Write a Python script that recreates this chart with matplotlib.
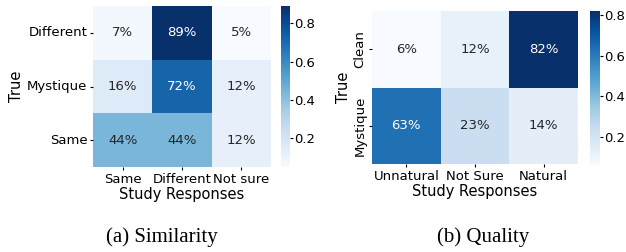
import matplotlib

matplotlib.use("Agg")
import matplotlib.pyplot as plt
import numpy as np
import seaborn as sns

# ---- data ------------------------------------------------------------------
sim_rows = ["Different", "Mystique", "Same"]
sim_cols = ["Same", "Different", "Not sure"]
sim_values = [
    [0.07, 0.89, 0.05],
    [0.16, 0.72, 0.12],
    [0.44, 0.44, 0.12],
]

qual_rows = ["Clean", "Mystique"]
qual_cols = ["Unnatural", "Not Sure", "Natural"]
qual_values = [
    [0.06, 0.12, 0.82],
    [0.63, 0.23, 0.14],
]

W, H = 626, 252


def box(x0, y0, x1, y1):
    """Pixel box (top-left origin) -> figure fraction rect."""
    return [x0 / W, 1 - y1 / H, (x1 - x0) / W, (y1 - y0) / H]


def draw(fig, values, rows, cols, ax_box, cb_box, ytick_rot):
    ax = fig.add_axes(box(*ax_box))
    cax = fig.add_axes(box(*cb_box))
    sns.heatmap(
        np.array(values), ax=ax, cbar_ax=cax, cmap="Blues",
        annot=True, fmt=".0%", annot_kws={"fontsize": 9.5},
        xticklabels=cols, yticklabels=rows,
    )
    ax.tick_params(axis="both", labelsize=9.5, length=2.5, width=0.8, pad=1.5)
    ax.set_yticklabels(rows, rotation=ytick_rot, va="center")
    ax.set_xticklabels(cols, rotation=0)
    ax.set_xlabel("Study Responses", fontsize=10.5, labelpad=1)
    ax.set_ylabel("True", fontsize=10.5, labelpad=2)
    cax.tick_params(labelsize=9.5, length=2, width=0.8, pad=1)
    cax.set_yticks([0.2, 0.4, 0.6, 0.8])
    return ax


fig = plt.figure(figsize=(W / 100, H / 100), dpi=100)

draw(fig, sim_values, sim_rows, sim_cols, (93, 6, 271, 167), (281, 6, 290, 167), 0)
draw(fig, qual_values, qual_rows, qual_cols, (372, 11, 578, 164), (590, 11, 600, 165), 90)

cap_font = {"family": "Liberation Serif", "size": 15}
fig.text(162 / W, 1 - 237 / H, "(a) Similarity", ha="center", va="center", **cap_font)
fig.text(483 / W, 1 - 237 / H, "(b) Quality", ha="center", va="center", **cap_font)

fig.savefig("out.png", dpi=100)
